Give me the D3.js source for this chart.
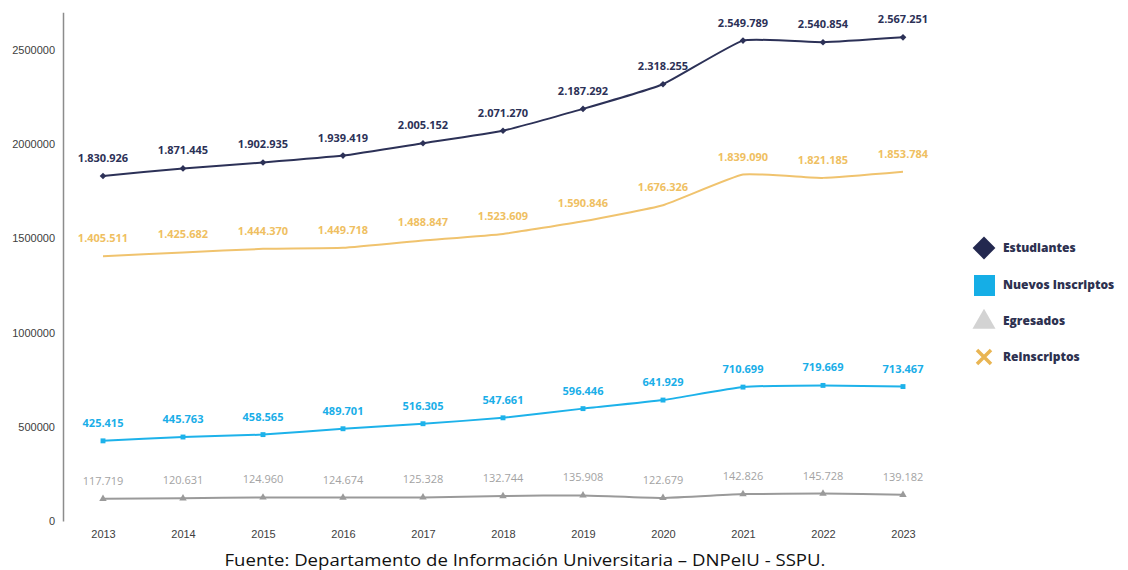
<!DOCTYPE html>
<html><head><meta charset="utf-8">
<script src="https://cdn.jsdelivr.net/npm/d3@7"></script>
<style>body{margin:0;background:#fff}svg{display:block}</style>
</head><body>
<svg id="c" width="1128" height="570"></svg>
<script>
const years = ["2013","2014","2015","2016","2017","2018","2019","2020","2021","2022","2023"];
const estudiantes = [1830926,1871445,1902935,1939419,2005152,2071270,2187292,2318255,2549789,2540854,2567251];
const reinscriptos = [1405511,1425682,1444370,1449718,1488847,1523609,1590846,1676326,1839090,1821185,1853784];
const nuevos = [425415,445763,458565,489701,516305,547661,596446,641929,710699,719669,713467];
const egresados = [117719,120631,124960,124674,125328,132744,135908,122679,142826,145728,139182];
const yTicks = [0,500000,1000000,1500000,2000000,2500000];
const seriesNames = ["Estudiantes","Nuevos Inscriptos","Egresados","Reinscriptos"];
const footer = "Fuente: Departamento de Información Universitaria – DNPeIU - SSPU.";

const svg = d3.select("#c");
const x = d3.scalePoint().domain(years).range([103,903]);
const y = d3.scaleLinear().domain([0,2700000]).range([521,12.3]);
const fmt = v => d3.format(",")(v).replace(/,/g,".");

// y axis
const ya = svg.append("g").attr("transform","translate(63,0)")
  .call(d3.axisLeft(y).tickValues(yTicks).tickSize(0).tickPadding(8).tickFormat(d3.format("d")));
ya.select(".domain").attr("stroke","#8c8c8c").attr("stroke-width",1.5);
ya.selectAll("text").attr("font-family","'Liberation Sans', Arial, sans-serif").attr("font-size",11).attr("fill","#404040");

// x labels
const xa = svg.append("g").attr("transform","translate(0,521)")
  .call(d3.axisBottom(x).tickSize(0).tickPadding(9));
xa.select(".domain").remove();
xa.selectAll("text").attr("font-family","'Liberation Sans', Arial, sans-serif").attr("font-size",11).attr("fill","#404040");

const series = [
  {name:"Reinscriptos", vals:reinscriptos, color:"#f0c36e", lab:"#efbf62", bold:true, marker:"none"},
  {name:"Egresados", vals:egresados, color:"#9a9a9a", lab:"#a3a3a3", bold:false, marker:"tri"},
  {name:"Nuevos Inscriptos", vals:nuevos, color:"#1db2ea", lab:"#1aaee8", bold:true, marker:"sq"},
  {name:"Estudiantes", vals:estudiantes, color:"#2c3157", lab:"#2c3157", bold:true, marker:"dia"}
];
const line = d3.line().x((d,i)=>x(years[i])).y(d=>y(d)).curve(d3.curveCardinal.tension(0.6));
series.forEach(s=>{
  const g = svg.append("g");
  g.append("path").datum(s.vals).attr("d",line).attr("fill","none").attr("stroke",s.color).attr("stroke-width",2);
  if(s.marker!=="none"){
    const sym = s.marker==="tri"?d3.symbolTriangle:d3.symbolSquare;
    g.selectAll("path.m").data(s.vals).join("path").attr("class","m")
      .attr("d",d3.symbol().type(sym).size(s.marker==="dia"?22:24))
      .attr("transform",(d,i)=>`translate(${x(years[i])},${y(d)})${s.marker==="dia"?" rotate(45)":""}`)
      .attr("fill",s.color);
  }
  g.selectAll("text").data(s.vals).join("text")
    .attr("x",(d,i)=>x(years[i])).attr("y",d=>y(d)-14)
    .attr("text-anchor","middle")
    .attr("font-family","'Open Sans', sans-serif")
    .attr("font-size",11).attr("font-weight",s.bold?700:400)
    .attr("fill",s.lab).text(d=>fmt(d));
});

// legend
const leg = svg.append("g");
const legY = [248,285,321,357];
const legColors = ["#23284f","#15aee6","#d3d3d3","#e9b553"];
leg.append("path").attr("d",d3.symbol().type(d3.symbolSquare).size(260)).attr("transform",`translate(984,${legY[0]}) rotate(45)`).attr("fill",legColors[0]);
leg.append("rect").attr("x",974).attr("y",legY[1]-10).attr("width",21).attr("height",21).attr("fill",legColors[1]);
leg.append("path").attr("d",d3.symbol().type(d3.symbolTriangle).size(230)).attr("transform",`translate(984,${legY[2]+1})`).attr("fill",legColors[2]);
leg.append("path").attr("d","M-7,-7L7,7M7,-7L-7,7").attr("transform",`translate(984,${legY[3]})`)
  .attr("stroke",legColors[3]).attr("stroke-width",3.5).attr("fill","none");
leg.selectAll("text").data(seriesNames).join("text")
  .attr("x",1003).attr("y",(d,i)=>legY[i]+4)
  .attr("font-family","'Open Sans', sans-serif").attr("font-size",12).attr("font-weight",800)
  .attr("fill","#2d3150").text(d=>d);

svg.append("text").attr("x",525).attr("y",566).attr("text-anchor","middle")
  .attr("font-family","'Open Sans', sans-serif").attr("font-size",15.5)
  .attr("textLength",601).attr("lengthAdjust","spacingAndGlyphs")
  .attr("fill","#111").text(footer);
</script>
</body></html>
